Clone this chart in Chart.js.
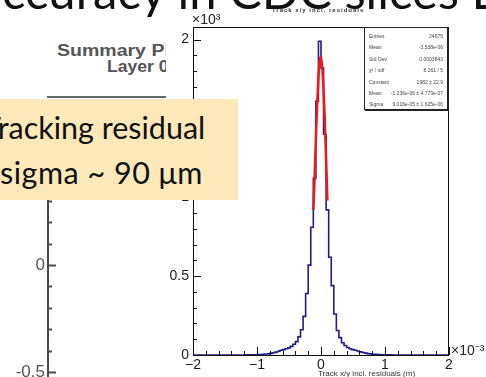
<!DOCTYPE html>
<html>
<head>
<meta charset="utf-8">
<script src="https://cdn.jsdelivr.net/npm/chart.js@4.4.1/dist/chart.umd.min.js"></script>
<style>
  html, body { margin: 0; padding: 0; background: #fff; }
  #page { position: relative; width: 486px; height: 377px; overflow: hidden; font-family: "Liberation Sans", Arial, sans-serif; }
  .abs { position: absolute; white-space: nowrap; }
  #slideTitle { left: 2px; top: -34px; font: 49px/49px Lato, sans-serif; color: #111; z-index: 6; }
  #histTitle { left: 272px; top: 7px; font: bold 6px "Liberation Sans", sans-serif; color: #333; letter-spacing: 1px; z-index: 3; }
  #summary { left: 57px; top: 42px; font: bold 16px "Liberation Sans", sans-serif; color: #555; transform: scaleX(1.22); transform-origin: 0 0; }
  #layer { left: 107px; top: 58px; font: bold 16px "Liberation Sans", sans-serif; color: #555; transform: scaleX(1.1); transform-origin: 0 0; }
  #sepLine { left: 47px; top: 96px; width: 140px; height: 2px; background: #666; }
  #leftAxis { position: absolute; left: 0; top: 127px; z-index: 1; }
  #hist { position: absolute; left: 166px; top: 0; z-index: 2; }
  #yMult { left: 192px; top: 11px; font: 14px "Liberation Sans", sans-serif; color: #222; z-index: 3; }
  #xMult { left: 451px; top: 340px; font: 14px "Liberation Sans", sans-serif; color: #222; z-index: 3; }
  #xTitle { left: 318px; top: 369px; font: 8px "Liberation Sans", sans-serif; color: #333; z-index: 3; }
  #stats { left: 364px; top: 27px; width: 84px; height: 83px; border: 1px solid #222; box-shadow: 1px 1px 0 #222; background: #fff; z-index: 4;
           font: 5px "Liberation Sans", sans-serif; color: #444; box-sizing: border-box; padding: 3px 4px 0 4px; }
  #stats div { display: flex; justify-content: space-between; height: 11.4px; line-height: 11.4px; }
  #note { left: 0; top: 99px; width: 238px; height: 101px; background: #fde8b9; z-index: 5; font-family: Lato, sans-serif; color: #111; }
  #note .l1 { position: absolute; left: -17px; top: 10px; font-size: 30.5px; white-space: nowrap; }
  #note .l2 { position: absolute; left: 0px; top: 55px; font-size: 30.5px; letter-spacing: 0.5px; white-space: nowrap; }
</style>
</head>
<body>
<div id="page">
  <div class="abs" id="slideTitle">ccuracy in CDC slices L</div>
  <div class="abs" id="histTitle">Track x/y incl. residuals</div>
  <div class="abs" id="summary">Summary Plots</div>
  <div class="abs" id="layer">Layer 0</div>
  <div class="abs" id="sepLine"></div>
  <canvas id="leftAxis" width="166" height="266"></canvas>
  <canvas id="hist" width="320" height="377"></canvas>
  <div class="abs" id="yMult">×10³</div>
  <div class="abs" id="xMult">×10⁻³</div>
  <div class="abs" id="xTitle">Track x/y incl. residuals (m)</div>
  <div class="abs" id="stats">
    <div><span>Entries</span><span>24675</span></div>
    <div><span>Mean</span><span>-3.538e-06</span></div>
    <div><span>Std Dev</span><span>0.0003843</span></div>
    <div><span>χ² / ndf</span><span>8.261 / 5</span></div>
    <div><span>Constant</span><span>1982 ± 22.9</span></div>
    <div><span>Mean</span><span>-1.236e-06 ± 4.773e-07</span></div>
    <div><span>Sigma</span><span>9.016e-05 ± 1.625e-06</span></div>
  </div>
  <div class="abs" id="note">
    <div class="l1">Tracking residual</div>
    <div class="l2">sigma ~ 90 μm</div>
  </div>
</div>
<script>
// --- data : histogram, 100 bins from -2 to 2 (x10^-3 m), counts in x10^3 ---
const histMin = -2;
const histMax = 2;
const counts = [
  0, 0, 0, 0, 0, 0, 0, 0, 0, 0,
  0, 0, 0, 0, 0, 0, 0, 0, 0, 0,
  0.001, 0.001, 0.001, 0.002, 0.002, 0.003, 0.003, 0.004, 0.006, 0.007,
  0.010, 0.014, 0.018, 0.024, 0.030, 0.034, 0.040, 0.045, 0.055, 0.068,
  0.085, 0.115, 0.160, 0.245, 0.390, 0.570, 0.810, 1.120, 1.610, 1.990,
  1.820, 1.400, 0.920, 0.620, 0.440, 0.260, 0.155, 0.110, 0.078, 0.060,
  0.048, 0.040, 0.034, 0.030, 0.025, 0.020, 0.016, 0.012, 0.009, 0.007,
  0.005, 0.004, 0.003, 0.002, 0.002, 0.001, 0.001, 0.001, 0, 0,
  0, 0, 0, 0, 0, 0, 0, 0, 0, 0,
  0, 0, 0, 0, 0, 0, 0, 0, 0, 0
];

// --- gaussian fit (red) ---
const fitX = [-0.12, -0.10, -0.08, -0.06, -0.04, -0.02, 0.00, 0.02, 0.04, 0.06, 0.08, 0.10];
const fitY = [0.92, 1.12, 1.37, 1.59, 1.76, 1.87, 1.89, 1.82, 1.68, 1.48, 1.24, 0.98];

// --- tick labels ---
const xTicks = [-2, -1, 0, 1, 2];
const yTicks = [0, 0.5, 1, 1.5, 2];
const leftTicks = [-0.5, 0];

// --- helpers ---
const binW = (histMax - histMin) / counts.length;
const histPoints = counts.map((c, i) => ({ x: histMin + i * binW, y: c }));
histPoints.push({ x: histMax, y: counts[counts.length - 1] });

const fmt = v => (v < 0 ? "\u2212" + Math.abs(v) : String(v));

// ROOT style ticks drawn inside the frame
const rootTicks = {
  id: "rootTicks",
  afterDraw(chart, args, o) {
    const { ctx, chartArea: a, scales } = chart;
    ctx.save();
    ctx.strokeStyle = o.color || "#000";
    ctx.lineWidth = o.width || 1;
    if (o.frame) ctx.strokeRect(a.left + 0.5, a.top + 0.5, a.right - a.left - 1, a.bottom - a.top);
    if (o.axisLine) {
      ctx.beginPath();
      ctx.moveTo(a.left, a.top);
      ctx.lineTo(a.left, a.bottom);
      ctx.stroke();
    }
    const isMajor = (v, step) => Math.abs(v / step - Math.round(v / step)) < 1e-6;
    if (o.y) {
      const s = scales.y;
      for (let k = Math.ceil(s.min / o.y.minor - 1e-6); k * o.y.minor <= s.max + 1e-9; k++) {
        const v = k * o.y.minor;
        const py = Math.round(s.getPixelForValue(v)) + 0.5;
        const len = isMajor(v, o.y.major) ? 8 : 4;
        ctx.beginPath();
        ctx.moveTo(a.left, py);
        ctx.lineTo(a.left + len, py);
        ctx.stroke();
      }
    }
    if (o.x) {
      const s = scales.x;
      for (let k = Math.ceil(s.min / o.x.minor - 1e-6); k * o.x.minor <= s.max + 1e-9; k++) {
        const v = k * o.x.minor;
        const px = Math.round(s.getPixelForValue(v)) + 0.5;
        const len = isMajor(v, o.x.major) ? 8 : 4;
        ctx.beginPath();
        ctx.moveTo(px, a.bottom);
        ctx.lineTo(px, a.bottom - len);
        ctx.stroke();
      }
    }
    ctx.restore();
  }
};

const whiteBg = {
  id: "whiteBg",
  beforeDraw(chart) {
    const { ctx, width, height } = chart;
    ctx.save();
    ctx.fillStyle = "#fff";
    ctx.fillRect(0, 0, width, height);
    ctx.restore();
  }
};

const tickFont = { family: "'Liberation Sans', Arial, sans-serif", size: 14 };

// --- main histogram ---
new Chart(document.getElementById("hist"), {
  type: "line",
  data: {
    datasets: [
      {
        label: "gaus fit",
        data: fitX.map((x, i) => ({ x, y: fitY[i] })),
        borderColor: "#f01818",
        borderWidth: 2.5,
        pointRadius: 0,
        cubicInterpolationMode: "monotone",
        tension: 0.4
      },
      {
        label: "residuals",
        data: histPoints,
        borderColor: "#1d1d8e",
        borderWidth: 1.6,
        pointRadius: 0,
        stepped: "before"
      }
    ]
  },
  options: {
    responsive: false,
    animation: false,
    layout: { padding: { top: 27, right: 37, left: 0, bottom: 0 } },
    plugins: {
      legend: { display: false },
      tooltip: { enabled: false },
      rootTicks: { frame: true, color: "#111", y: { minor: 0.1, major: 0.5 }, x: { minor: 0.2, major: 1 } }
    },
    scales: {
      x: {
        type: "linear", min: histMin, max: histMax,
        grid: { display: false, drawTicks: false },
        border: { display: false },
        afterBuildTicks: s => { s.ticks = xTicks.map(v => ({ value: v })); },
        afterFit: s => { s.height = 22; },
        ticks: { padding: 2, font: tickFont, color: "#1a1a1a", maxRotation: 0, callback: v => fmt(v) }
      },
      y: {
        type: "linear", min: 0, max: 2.08,
        grid: { display: false, drawTicks: false },
        border: { display: false },
        afterBuildTicks: s => { s.ticks = yTicks.map(v => ({ value: v })); },
        afterFit: s => { s.width = 27; },
        ticks: { padding: 4, font: tickFont, color: "#1a1a1a", callback: v => fmt(v) }
      }
    }
  },
  plugins: [whiteBg, rootTicks]
});

// --- axis of the neighbouring plot (left) ---
// tiny lineHeight keeps Chart.js from padding the axis ends for the labels
new Chart(document.getElementById("leftAxis"), {
  type: "line",
  data: { datasets: [] },
  options: {
    responsive: false,
    animation: false,
    layout: { padding: 0 },
    plugins: {
      legend: { display: false },
      tooltip: { enabled: false },
      rootTicks: { axisLine: true, color: "#4a4a4a", width: 2, y: { minor: 0.1, major: 0.5 } }
    },
    scales: {
      x: { type: "linear", display: false, min: 0, max: 1 },
      y: {
        type: "linear", min: -0.584, max: 0.631,
        grid: { display: false, drawTicks: false },
        border: { display: false },
        afterBuildTicks: s => { s.ticks = leftTicks.map(v => ({ value: v })); },
        afterFit: s => { s.width = 48; },
        ticks: { padding: 3, font: { family: "'Liberation Sans', Arial, sans-serif", size: 17, lineHeight: 0.01 }, color: "#555", callback: v => String(v) }
      }
    }
  },
  plugins: [rootTicks]
});
</script>
</body>
</html>
